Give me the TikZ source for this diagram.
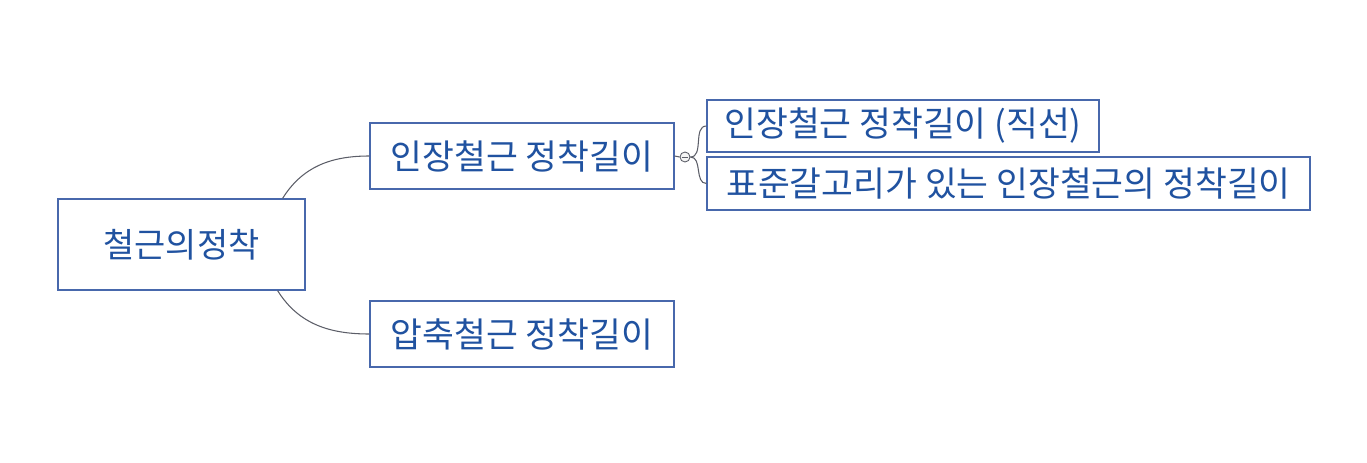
\documentclass[tikz,border=0pt]{standalone}
\usepackage{fontspec}
\setmainfont{Noto Sans CJK KR}
\usetikzlibrary{positioning,calc}
\usepackage{xcolor}
\definecolor{mapblue}{RGB}{32,82,160}
\definecolor{edgeblue}{RGB}{72,104,172}
\definecolor{linkgray}{RGB}{92,94,104}

\begin{document}
\begin{tikzpicture}[x=0.02cm, y=-0.02cm,
    topic/.style={draw=edgeblue, line width=0.7pt, fill=white, inner sep=0pt,
                  text=mapblue, font=\fontsize{19.7}{22}\selectfont},
    link/.style={linkgray, line width=0.6pt},
    knob/.style={circle, draw=linkgray, fill=black!4, line width=0.5pt,
                 minimum size=0.2cm, inner sep=0pt}
]

\useasboundingbox (0,0) rectangle (1367,463);

% main topic
\node[topic, minimum width=4.94cm, minimum height=1.82cm, font=\fontsize{19.3}{22}\selectfont] (root) at (181.5,244.5) {철근의정착};

% branches
\node[topic, minimum width=6.08cm, minimum height=1.32cm] (tens) at (522,156) {인장철근 정착길이};
\node[topic, minimum width=6.08cm, minimum height=1.32cm] (comp) at (522,334) {압축철근 정착길이};

% sub branches of tension
\node[topic, minimum width=7.84cm, minimum height=1.04cm] (straight) at (903,126) {인장철근 정착길이 (직선)};
\node[topic, minimum width=12.06cm, minimum height=1.06cm] (hook) at (1008.5,183.5) {표준갈고리가 있는 인장철근의 정착길이};

\node[knob] (fold) at (685,157) {};
\draw[linkgray, line width=0.4pt] ($(fold.west)+(2,0)$) -- ($(fold.east)+(-2,0)$);

\coordinate (rtop) at ($(root.north east)+(-23,0)$);
\coordinate (rbot) at ($(root.south east)+(-28,0)$);

\draw[link] (rtop) to[out=58,in=180] (tens.west);
\draw[link] (rbot) to[out=-58,in=180] (comp.west);
\draw[link] (tens.east) -- (fold.west);
\draw[link] (fold.east) to[out=0,in=180] (straight.west);
\draw[link] (fold.east) to[out=0,in=180] (hook.west);

\end{tikzpicture}
\end{document}
